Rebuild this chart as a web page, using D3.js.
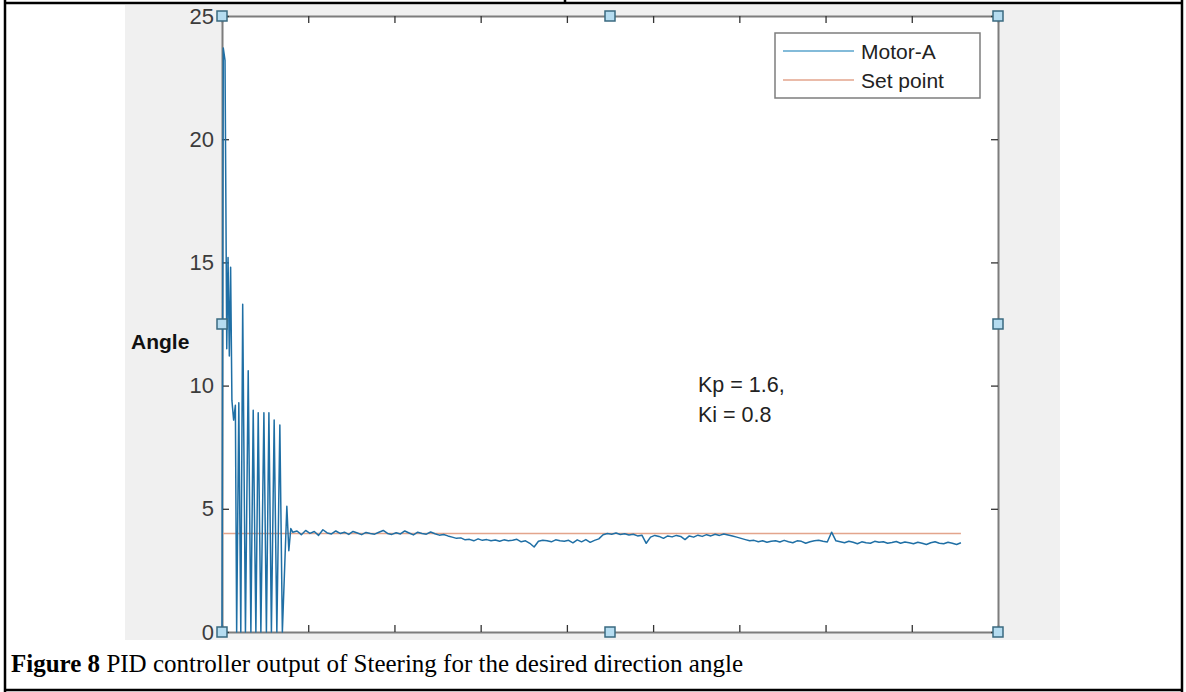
<!DOCTYPE html>
<html>
<head>
<meta charset="utf-8">
<script src="https://cdn.jsdelivr.net/npm/d3@7"></script>
<style>
body { margin: 0; background: #fff; }
svg { display: block; }
</style>
</head>
<body>
<div id="chart"></div>
<script>
// axis ticks (x = sample number, no labels shown; y = angle)
var xTicks = [0, 100, 200, 300, 400, 500, 600, 700, 800, 900];
var yTicks = [0, 5, 10, 15, 20, 25];

// Motor-A start-up transient
var startupSamples = [0, 1.5, 3.5, 5.5, 7, 8.5, 10, 11.5, 13.5, 15.5, 17, 19.5, 21.8, 24, 27.2, 30.4, 33.5, 36.2, 39.3, 42,
    45.1, 48.6, 51.5, 54.4, 57.3, 60.5, 63.6, 67.1, 70, 75.2, 77.5, 79.8];
var startupAngles = [0, 23.7, 23.2, 11.5, 15.2, 11.2, 14.8, 9.4, 8.6, 9.2, 0, 9.3, 0, 13.3, 0, 10.6, 0, 9.0, 0, 8.9,
    0, 8.9, 0, 8.9, 0, 8.6, 0, 8.4, 0, 5.1, 3.3, 4.2];

// Motor-A after settling, one reading every 5 samples from sample 82
var tailStart = 82, tailStep = 5;
var tailAngles = [
    4.05, 4.1, 3.95, 4.12, 4.0, 4.08, 3.92, 4.15, 4.02, 3.98,
    4.1, 4.0, 4.05, 3.96, 4.08, 4.02, 3.95, 4.04, 4.0, 3.97,
    4.05, 4.12, 4.0, 3.96, 4.03, 3.98, 4.1, 4.02, 3.94, 4.05,
    4.0, 3.97, 4.06, 3.99, 3.93, 3.96, 3.9,
    3.85, 3.8, 3.82, 3.74, 3.76, 3.7, 3.78, 3.72, 3.75, 3.7,
    3.73, 3.68, 3.74, 3.7, 3.72, 3.76, 3.66, 3.7, 3.6, 3.45,
    3.68, 3.72, 3.7, 3.66, 3.74, 3.7, 3.68, 3.72, 3.62, 3.74,
    3.66, 3.75, 3.64, 3.72, 3.78,
    3.95, 4.0, 3.97, 4.02, 3.96, 3.99, 3.94, 3.97, 3.9, 3.93,
    3.6, 3.85, 3.92, 3.88, 3.8, 3.9, 3.86, 3.92, 3.88, 3.75,
    3.9, 3.85, 3.93, 3.88, 3.95, 3.9, 3.97, 3.92, 3.98, 3.94,
    3.9, 3.85, 3.8,
    3.75, 3.7, 3.72, 3.66, 3.7, 3.64, 3.68, 3.7, 3.65, 3.72,
    3.66, 3.62, 3.7, 3.68, 3.6, 3.66, 3.7, 3.72, 3.68, 3.65,
    4.05, 3.7, 3.66, 3.62, 3.68, 3.64, 3.58, 3.66, 3.62, 3.6,
    3.68, 3.64, 3.66, 3.6, 3.63, 3.67, 3.6, 3.65, 3.62, 3.58,
    3.64, 3.6, 3.55, 3.62, 3.66, 3.6, 3.58, 3.64, 3.6, 3.55,
    3.62
];

// set point
var setPoint = 4;
var setPointSamples = [0, 857];

var legendLabels = ["Motor-A", "Set point"];
var noteLines = ["Kp = 1.6,", "Ki = 0.8"];
var captionBold = "Figure 8";
var captionRest = " PID controller output of Steering for the desired direction angle";

// build the Motor-A series
var motor = startupSamples.map(function (s, i) { return [s, startupAngles[i]]; });
tailAngles.forEach(function (v, i) { motor.push([tailStart + i * tailStep, v]); });
var setLine = setPointSamples.map(function (s) { return [s, setPoint]; });

var W = 1186, H = 692;
var plot = { left: 222, right: 998, top: 16, bottom: 632 };
var motorColor = "#1f6fa5", setColor = "#e3a58c", axisColor = "#7d7d7d";

var svg = d3.select("#chart").append("svg")
    .attr("width", W)
    .attr("height", H);

svg.append("rect").attr("width", W).attr("height", H).attr("fill", "#fff");

// grey figure background
svg.append("rect")
    .attr("x", 125).attr("y", 5)
    .attr("width", 935).attr("height", 635)
    .attr("fill", "#f0f0f0");

// white axes area
svg.append("rect")
    .attr("x", plot.left).attr("y", plot.top)
    .attr("width", plot.right - plot.left).attr("height", plot.bottom - plot.top)
    .attr("fill", "#fff");

var x = d3.scaleLinear().domain([0, 900]).range([plot.left, plot.right]);
var y = d3.scaleLinear().domain([0, 25]).range([plot.bottom, plot.top]);

function styleAxis(g) {
    g.select(".domain").attr("stroke", axisColor).attr("stroke-width", 2);
    g.selectAll(".tick line").attr("stroke", "#333").attr("stroke-width", 1.3);
    g.selectAll(".tick text")
        .attr("fill", "#3c3c3c")
        .style("font-family", "'Liberation Sans', Arial, sans-serif")
        .style("font-size", "22px");
}

svg.append("g")
    .attr("transform", "translate(0," + plot.bottom + ")")
    .call(d3.axisBottom(x).tickValues(xTicks).tickSize(-7).tickSizeOuter(0).tickFormat(""))
    .call(styleAxis);
svg.append("g")
    .attr("transform", "translate(0," + plot.top + ")")
    .call(d3.axisTop(x).tickValues(xTicks).tickSize(-7).tickSizeOuter(0).tickFormat(""))
    .call(styleAxis);
svg.append("g")
    .attr("transform", "translate(" + plot.right + ",0)")
    .call(d3.axisRight(y).tickValues(yTicks).tickSize(-7).tickSizeOuter(0).tickFormat(""))
    .call(styleAxis);
svg.append("g")
    .attr("transform", "translate(" + plot.left + ",0)")
    .call(d3.axisLeft(y).tickValues(yTicks).tickSize(-7).tickSizeOuter(0).tickPadding(8))
    .call(styleAxis);

var line = d3.line()
    .x(function (d) { return x(d[0]); })
    .y(function (d) { return y(d[1]); });

svg.append("path")
    .datum(setLine)
    .attr("d", line)
    .attr("fill", "none")
    .attr("stroke", setColor)
    .attr("stroke-width", 1.5);

svg.append("path")
    .datum(motor)
    .attr("d", line)
    .attr("fill", "none")
    .attr("stroke", motorColor)
    .attr("stroke-width", 1.5)
    .attr("stroke-linejoin", "round");

// axis label
svg.append("text")
    .attr("x", 131).attr("y", 349)
    .style("font-family", "'Liberation Sans', Arial, sans-serif")
    .style("font-size", "21px")
    .style("font-weight", "bold")
    .attr("fill", "#111")
    .text("Angle");

// Kp / Ki note
svg.append("g").selectAll("text")
    .data(noteLines)
    .enter().append("text")
    .attr("x", 698)
    .attr("y", function (d, i) { return 392 + i * 30; })
    .style("font-family", "'Liberation Sans', Arial, sans-serif")
    .style("font-size", "21.5px")
    .attr("fill", "#222")
    .text(function (d) { return d; });

// legend
var legend = svg.append("g");
legend.append("rect")
    .attr("x", 775).attr("y", 33)
    .attr("width", 205).attr("height", 65)
    .attr("fill", "#fff")
    .attr("stroke", axisColor)
    .attr("stroke-width", 1.5);
legend.selectAll("line")
    .data(legendLabels)
    .enter().append("line")
    .attr("x1", 783).attr("x2", 854)
    .attr("y1", function (d, i) { return 51 + i * 29; })
    .attr("y2", function (d, i) { return 51 + i * 29; })
    .attr("stroke", function (d, i) { return i === 0 ? "#5aa4cc" : setColor; })
    .attr("stroke-width", 1.5);
legend.selectAll("text")
    .data(legendLabels)
    .enter().append("text")
    .attr("x", 861)
    .attr("y", function (d, i) { return 59 + i * 29; })
    .style("font-family", "'Liberation Sans', Arial, sans-serif")
    .style("font-size", "21px")
    .attr("fill", "#222")
    .text(function (d) { return d; });

// figure selection handles
var handles = [[0, 0], [450, 0], [900, 0], [0, 12.5], [900, 12.5], [0, 25], [450, 25], [900, 25]];
svg.append("g").selectAll("rect")
    .data(handles)
    .enter().append("rect")
    .attr("x", function (d) { return x(d[0]) - 5; })
    .attr("y", function (d) { return y(d[1]) - 5; })
    .attr("width", 10).attr("height", 10)
    .attr("fill", "#b5dcf0")
    .attr("stroke", "#3a6a80")
    .attr("stroke-width", 1.5);

// document table borders
var border = svg.append("g").attr("stroke", "#000").attr("stroke-width", 2.5);
border.append("line").attr("x1", 4).attr("x2", 1183).attr("y1", 3).attr("y2", 3);
border.append("line").attr("x1", 5).attr("x2", 5).attr("y1", 0).attr("y2", H);
border.append("line").attr("x1", 1182).attr("x2", 1182).attr("y1", 0).attr("y2", H);
border.append("line").attr("x1", 4).attr("x2", 1183).attr("y1", 690).attr("y2", 690);
border.append("line").attr("x1", 565).attr("x2", 565).attr("y1", 0).attr("y2", 4);

// caption
var cap = svg.append("text")
    .attr("x", 11).attr("y", 672)
    .style("font-family", "'Liberation Serif', 'Times New Roman', serif")
    .style("font-size", "25px")
    .attr("fill", "#000");
cap.append("tspan").style("font-weight", "bold").text(captionBold);
cap.append("tspan").text(captionRest);
</script>
</body>
</html>
